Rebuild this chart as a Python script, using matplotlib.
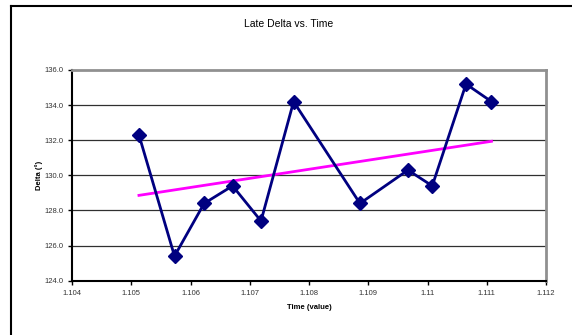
import matplotlib.pyplot as plt
from matplotlib.lines import Line2D

# late delta readings
time_val = [1.10513, 1.10573, 1.10623, 1.10671, 1.10719, 1.10774,
            1.10886, 1.10967, 1.11008, 1.11065, 1.11108]
delta = [132.3, 125.4, 128.4, 129.4, 127.4, 134.2,
         128.4, 130.3, 129.4, 135.2, 134.2]
# trend line as drawn in the original (start / end)
trend_time = [1.10513, 1.11108]
trend_delta = [128.86, 131.94]
x_ticks = [1.104, 1.105, 1.106, 1.107, 1.108, 1.109, 1.11, 1.111, 1.112]
x_tick_labels = ['1.104', '1.105', '1.106', '1.107', '1.108', '1.109', '1.11', '1.111', '1.112']
y_ticks = [124.0, 126.0, 128.0, 130.0, 132.0, 134.0, 136.0]

plt.rcParams['font.family'] = ['Liberation Sans', 'DejaVu Sans']

fig = plt.figure(figsize=(5.72, 3.35), dpi=100)
# outer chart frame (only left/top visible)
fig.add_artist(Line2D([11/572, 11/572], [0, 1 - 6/335], color='black', lw=1.5, transform=fig.transFigure))
fig.add_artist(Line2D([11/572, 1], [1 - 6/335, 1 - 6/335], color='black', lw=1.5, transform=fig.transFigure))

ax = fig.add_axes([72/572, (335 - 280.7)/335, (546 - 72)/572, (280.7 - 70)/335])

for yv in y_ticks[1:-1]:
    ax.axhline(yv, color='#303030', lw=0.9, zorder=1)

ax.plot(time_val, delta, color='#000080', lw=2, marker='D', markersize=7, zorder=3)
ax.plot(trend_time, trend_delta, color='#ff00ff', lw=2, zorder=2)

ax.set_xlim(1.104, 1.112)
ax.set_ylim(124, 136)
ax.set_xticks(x_ticks)
ax.set_xticklabels(x_tick_labels)
ax.set_yticks(y_ticks)
ax.set_yticklabels(['%.1f' % v for v in y_ticks])
ax.tick_params(labelsize=5.5, length=3, width=1, colors='black', labelcolor='#333333')

for s in ['top', 'right']:
    ax.spines[s].set_color('#909090')
    ax.spines[s].set_linewidth(2)
for s in ['left', 'bottom']:
    ax.spines[s].set_color('black')
    ax.spines[s].set_linewidth(1.5)

ax.set_xlabel('Time (value)', fontsize=5.5, fontweight='bold', labelpad=5)
ax.set_ylabel('Delta (°)', fontsize=5.5, fontweight='bold', labelpad=1)
fig.text(0.5 + 0.005, 1 - 24/335, 'Late Delta vs. Time', ha='center', va='center', fontsize=7.5)

fig.savefig('out.png', dpi=100)
